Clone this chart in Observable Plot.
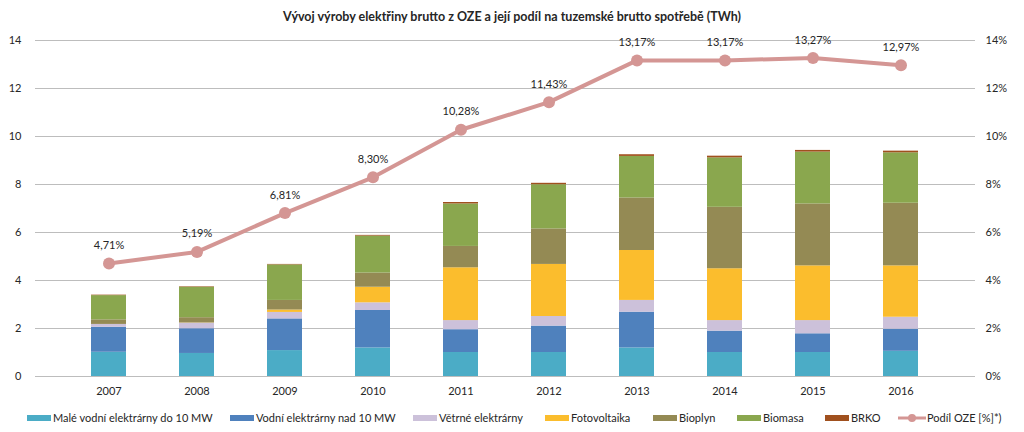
<!DOCTYPE html>
<html>
<head>
<meta charset="utf-8">
<script src="https://cdn.jsdelivr.net/npm/d3@7"></script>
<script src="https://cdn.jsdelivr.net/npm/@observablehq/plot@0.6"></script>
<style>
  html, body { margin: 0; padding: 0; background: #fff; }
  body { width: 1024px; height: 432px; overflow: hidden; font-family: Lato, "Open Sans", sans-serif; color: #262626; }
  #title { height: 30px; line-height: 34px; text-align: center; font-weight: bold; font-size: 12.5px; color: #262626; }
  #legend { position: relative; height: 32px; font-size: 11px; color: #262626; }
  .item { position: absolute; top: 11px; display: flex; align-items: center; white-space: nowrap; }
  .sw { display: inline-block; width: 24px; height: 6px; margin-right: 2px; }
</style>
</head>
<body>
<div id="title">Vývoj výroby elektřiny brutto z OZE a její podíl na tuzemské brutto spotřebě (TWh)</div>
<div id="chart"></div>
<div id="legend"></div>
<script>
const years = ["2007","2008","2009","2010","2011","2012","2013","2014","2015","2016"];
const seriesNames = ["Malé vodní elektrárny do 10 MW","Vodní elektrárny nad 10 MW","Větrné elektrárny","Fotovoltaika","Bioplyn","Biomasa","BRKO"];
const maleVodni   = [1.01, 0.96, 1.08, 1.19, 1.00, 1.00, 1.19, 1.00, 1.00, 1.05];
const vodni       = [1.04, 1.03, 1.32, 1.56, 0.95, 1.10, 1.49, 0.89, 0.78, 0.92];
const vetrne      = [0.12, 0.23, 0.27, 0.32, 0.38, 0.40, 0.49, 0.44, 0.55, 0.50];
const fotovoltaika= [0.00, 0.01, 0.10, 0.65, 2.20, 2.17, 2.08, 2.16, 2.28, 2.14];
const bioplyn     = [0.19, 0.22, 0.40, 0.59, 0.89, 1.48, 2.19, 2.56, 2.58, 2.61];
const biomasa     = [1.01, 1.27, 1.48, 1.54, 1.77, 1.84, 1.73, 2.06, 2.16, 2.10];
const brko        = [0.02, 0.02, 0.02, 0.03, 0.06, 0.06, 0.07, 0.07, 0.07, 0.07];
const podilOZE    = [4.71, 5.19, 6.81, 8.30, 10.28, 11.43, 13.17, 13.17, 13.27, 12.97];
const lineName = "Podíl OZE [%]*)";
const yTicks = [0, 2, 4, 6, 8, 10, 12, 14];
const colors = ["#4bacc6","#4f81bd","#ccc1da","#fbbd2d","#948a54","#8aa74e","#a0501e"];
const lineColor = "#d49694";

const seriesValues = [maleVodni, vodni, vetrne, fotovoltaika, bioplyn, biomasa, brko];
const bars = [];
seriesNames.forEach((s, i) => years.forEach((y, j) => bars.push({year: y, series: s, value: seriesValues[i][j]})));
const line = years.map((y, j) => ({year: y, pct: podilOZE[j]}));
const fmt = v => v.toFixed(2).replace(".", ",") + "%";

const chart = Plot.plot({
  width: 1024,
  height: 370,
  marginTop: 10,
  marginBottom: 24,
  marginLeft: 35,
  marginRight: 49,
  style: {fontFamily: "Lato, 'Open Sans', sans-serif", fontSize: "11px", color: "#262626", background: "#fff"},
  x: {domain: years, padding: 0.6, label: null},
  y: {domain: [0, 14], label: null},
  color: {domain: seriesNames, range: colors},
  marks: [
    Plot.gridY(yTicks, {stroke: "#bdbdbd", strokeOpacity: 1, strokeWidth: 1}),
    Plot.axisY(yTicks, {anchor: "left", tickSize: 0, tickPadding: 14, label: null}),
    Plot.axisY(yTicks, {anchor: "right", tickSize: 0, tickPadding: 10, tickFormat: d => d + "%", label: null, textAnchor: "start"}),
    Plot.axisX({tickSize: 0, tickPadding: 11, label: null}),
    Plot.barY(bars, {x: "year", y: "value", fill: "series"}),
    Plot.line(line, {x: "year", y: "pct", stroke: lineColor, strokeWidth: 4}),
    Plot.dot(line, {x: "year", y: "pct", r: 6, fill: lineColor, stroke: "none"}),
    Plot.text(line, {x: "year", y: "pct", text: d => fmt(d.pct), dy: -18, fill: "#262626", fontSize: 11})
  ]
});
document.getElementById("chart").appendChild(chart);

const legend = document.getElementById("legend");
const lefts = [27, 230, 413, 545, 653, 737, 825, 898];
seriesNames.forEach((s, i) => {
  const it = document.createElement("div");
  it.className = "item";
  it.style.left = lefts[i] + "px";
  it.innerHTML = `<span class="sw" style="background:${colors[i]}"></span><span>${s}</span>`;
  legend.appendChild(it);
});
const li = document.createElement("div");
li.className = "item";
li.style.left = lefts[7] + "px";
li.innerHTML = `<svg width="28" height="10" style="margin-right:1px"><line x1="0" y1="5" x2="28" y2="5" stroke="${lineColor}" stroke-width="3"/><circle cx="14" cy="5" r="4" fill="${lineColor}"/></svg><span>${lineName}</span>`;
legend.appendChild(li);
</script>
</body>
</html>
